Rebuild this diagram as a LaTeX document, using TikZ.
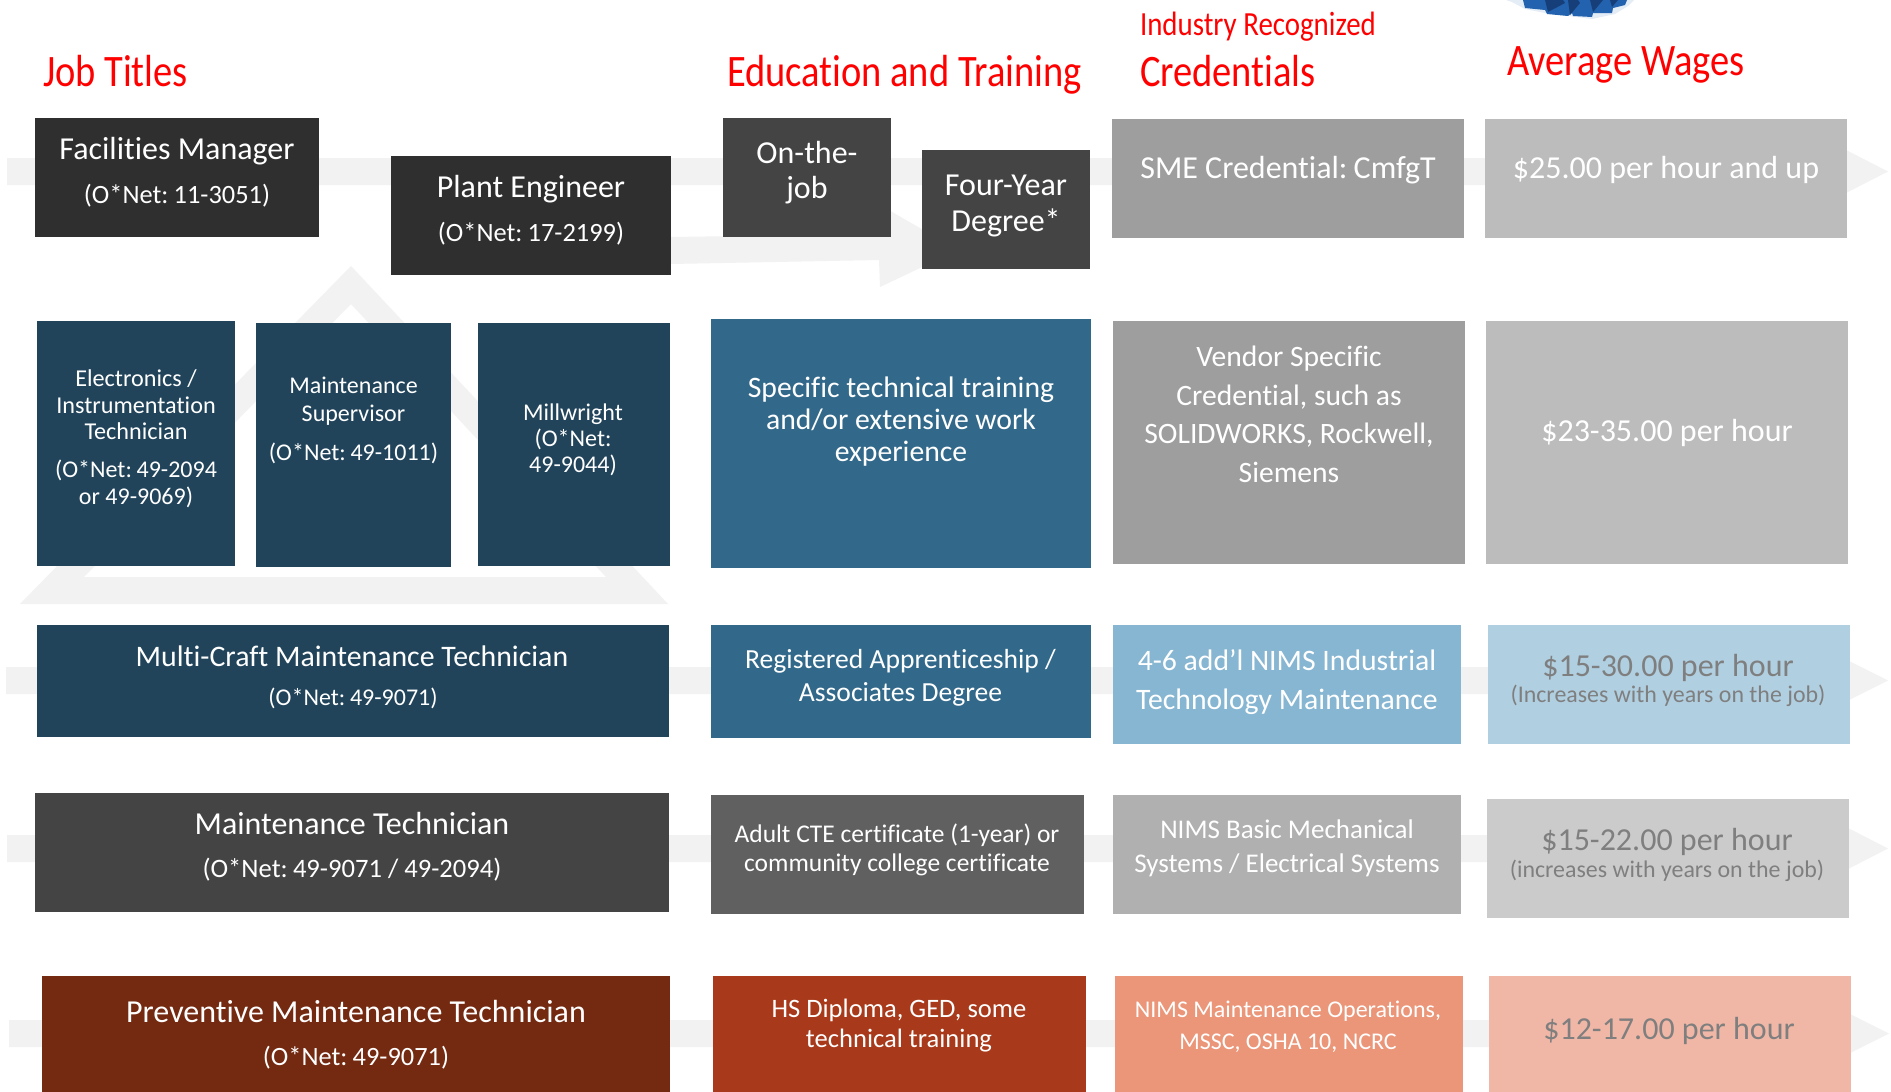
\documentclass[tikz,border=0pt]{standalone}
\usepackage{fontspec}
\setmainfont{Carlito}
\newfontfamily\headfont[FakeStretch=0.855,Ligatures=NoCommon]{Carlito}
\newfontfamily\bodyfont[Ligatures=NoCommon]{Carlito}
\newcommand{\cl}{:\kern-0.03em\ }
\definecolor{arrowgrey}{HTML}{F2F2F2}
\definecolor{cdark}{HTML}{2F2F2F}
\definecolor{cgreyA}{HTML}{444444}
\definecolor{cgreyB}{HTML}{9E9E9E}
\definecolor{cgreyC}{HTML}{BCBCBC}
\definecolor{cgreyD}{HTML}{606060}
\definecolor{cgreyE}{HTML}{B0B0B0}
\definecolor{cgreyF}{HTML}{CBCBCB}
\definecolor{cblueA}{HTML}{21445B}
\definecolor{cblueB}{HTML}{32698A}
\definecolor{cblueC}{HTML}{87B6D2}
\definecolor{cblueD}{HTML}{B0CFE1}
\definecolor{credA}{HTML}{742911}
\definecolor{credB}{HTML}{A8391A}
\definecolor{credC}{HTML}{EB9679}
\definecolor{credD}{HTML}{F1B7A6}
\definecolor{wagetext}{HTML}{7F7F7F}
\definecolor{gearA}{HTML}{2262AE}
\definecolor{gearB}{HTML}{163F7A}
\definecolor{gearH}{HTML}{E4ECF5}
\tikzset{
  boxnode/.style={inner sep=0pt,outer sep=0pt,anchor=north west},
  lbl/.style={inner sep=0pt,outer sep=0pt,align=center,text=white,anchor=center},
  head/.style={inner sep=0pt,outer sep=0pt,anchor=base west,text=red},
  band/.style={fill=arrowgrey,draw=none}
}
% name, x1, y1, x2, y2, colour
\newcommand{\bx}[6]{%
  \pgfmathsetmacro{\bw}{#4-#2}\pgfmathsetmacro{\bh}{#5-#3}%
  \node[boxnode,fill=#6,minimum width=\bw pt,minimum height=\bh pt] (#1) at (#2,#3) {};}
% name, cx, cy, size, leading, text
\newcommand{\tx}[6]{%
  \node[lbl,font=\fontsize{#4}{#5}\selectfont\bodyfont] (#1) at (#2,#3) {#6};}
% name, cx, cy, size, leading, text (grey)
\newcommand{\gx}[6]{%
  \node[lbl,text=wagetext,font=\fontsize{#4}{#5}\selectfont\bodyfont] (#1) at (#2,#3) {#6};}
% row arrow: left x, top y, bottom y, head x, head half height, tip x
\newcommand{\rowarrow}[6]{%
  \fill[band] (#1,#2) -- (#4,#2) -- (#4,{(#2+#3)/2-#5}) -- (#6,{(#2+#3)/2}) -- (#4,{(#2+#3)/2+#5}) -- (#4,#3) -- (#1,#3) -- cycle;}
\begin{document}
\begin{tikzpicture}[x=1pt,y=-1pt]
\useasboundingbox (0,0) rectangle (1891,1092);
\fill[white] (0,0) rectangle (1891,1092);

% background arrows
\rowarrow{7}{158}{185}{1847}{21}{1888}
\rowarrow{6}{667}{694}{1850}{19}{1888}
\rowarrow{7}{835}{862}{1849}{20}{1888}
\rowarrow{9}{1020}{1047}{1851}{19}{1889}
\fill[band] (671,237) -- (880,234) -- (880,205) -- (958,250) -- (880,287) -- (879,260) -- (671,264) -- cycle;
% background triangle
\fill[band,even odd rule] (351,266) -- (668,604) -- (20,604) -- cycle
  (351,304) -- (606,577) -- (84,577) -- cycle;

% gear, cut by the top edge
\fill[gearH] (1506,0) -- (1512,2) -- (1525,9) -- (1545,13) -- (1592,19) -- (1615,14) -- (1628,6) -- (1634,0) -- cycle;
\fill[gearA] (1523,0) -- (1525,8) -- (1545,10) -- (1547,14) -- (1568,16) -- (1572,13) -- (1573,16) -- (1592,17) -- (1593,13) -- (1612,13) -- (1613,8) -- (1625,5) -- (1627,0) -- cycle;
\fill[gearB] (1545,0) -- (1548,12) -- (1565,3) -- (1563,0) -- cycle
  (1568,0) -- (1570,15) -- (1580,3) -- (1578,0) -- cycle
  (1590,0) -- (1593,12) -- (1603,0) -- cycle
  (1610,0) -- (1612,7) -- (1618,0) -- cycle;

% headings
\node[head,font=\fontsize{45}{50}\selectfont\headfont] (hjob) at (43,86) {Job Titles};
\node[head,font=\fontsize{45}{50}\selectfont\headfont] (hedu) at (727,86) {Education and Training};
\node[head,font=\fontsize{33.8}{40}\selectfont\headfont] (hind) at (1140,35) {Industry Recognized};
\node[head,font=\fontsize{45}{50}\selectfont\headfont] (hcred) at (1140,86) {Credentials};
\node[head,font=\fontsize{45}{50}\selectfont\headfont] (hwage) at (1507,75) {Average Wages};

% row 1
\bx{facil}{35}{118}{319}{237}{cdark}
\tx{facilT}{177}{151}{32}{36}{Facilities Manager}
\tx{facilS}{177}{196}{26.4}{30}{(O*Net\cl 11-3051)}
\bx{plant}{391}{156}{670.5}{275}{cdark}
\tx{plantT}{531}{189}{32}{36}{Plant Engineer}
\tx{plantS}{531}{234}{26.4}{30}{(O*Net\cl 17-2199)}
\bx{onjob}{723}{118}{890.5}{237}{cgreyA}
\tx{onjobT}{807}{173}{32}{35}{On-the-\\job}
\bx{four}{922}{150}{1090}{269}{cgreyA}
\tx{fourT}{1006}{206}{32}{36}{Four-Year\\Degree*}
\bx{sme}{1112}{119}{1464}{238}{cgreyB}
\tx{smeT}{1288}{170}{32}{36}{SME Credential\cl CmfgT}
\bx{wageA}{1485}{119}{1847}{238}{cgreyC}
\tx{wageAT}{1666}{169.5}{32}{36}{\$25.00 per hour and up}

% row 2
\bx{elec}{37}{321}{235}{565.5}{cblueA}
\tx{elecT}{136}{405}{24.2}{26.5}{Electronics /\\Instrumentation\\Technician}
\tx{elecS}{136}{484}{24}{26.5}{(O*Net\cl 49-2094\\or 49-9069)}
\bx{super}{256}{322.5}{451}{566.5}{cblueA}
\tx{superT}{353.5}{401}{24}{28}{Maintenance\\Supervisor}
\tx{superS}{353.5}{453}{24}{28}{(O*Net\cl 49-1011)}
\bx{mill}{478}{322.5}{670}{565.5}{cblueA}
\tx{millT}{573}{440}{24}{26}{Millwright\\(O*Net:\\49-9044)}
\bx{spec}{711}{318.5}{1091}{567.5}{cblueB}
\tx{specT}{901}{422}{29.7}{32}{Specific technical training\\and/or extensive work\\experience}
\bx{vendor}{1113}{320.5}{1465}{564}{cgreyB}
\tx{vendorT}{1289}{414.5}{29.6}{38.5}{Vendor Specific\\Credential, such as\\SOLIDWORKS, Rockwell,\\Siemens}
\bx{wageB}{1486}{320.5}{1848}{564}{cgreyC}
\tx{wageBT}{1667}{433}{32}{36}{\$23-35.00 per hour}

% row 3
\bx{multi}{37}{625}{669}{736.5}{cblueA}
\tx{multiT}{352}{656}{29.8}{34}{Multi-Craft Maintenance Technician}
\tx{multiS}{353}{698}{24}{28}{(O*Net\cl 49-9071)}
\bx{regap}{711}{625}{1091}{737.5}{cblueB}
\tx{regapT}{900.5}{677.5}{27.6}{33}{Registered Apprenticeship /\\Associates Degree}
\bx{nimsI}{1113}{625}{1461}{743.5}{cblueC}
\tx{nimsIT}{1287}{682}{29.7}{38.5}{4-6 add’l NIMS Industrial\\Technology Maintenance}
\bx{wageC}{1488}{625}{1850}{744}{cblueD}
\gx{wageCT}{1668}{668}{32}{36}{\$15-30.00 per hour}
\gx{wageCS}{1668}{696}{23.9}{28}{(Increases with years on the job)}

% row 4
\bx{maint}{35}{792.5}{669}{911.5}{cgreyA}
\tx{maintT}{352}{823}{32}{36}{Maintenance Technician}
\tx{maintS}{352}{870}{26.6}{30}{(O*Net\cl 49-9071 / 49-2094)}
\bx{adult}{711}{795}{1084}{914}{cgreyD}
\tx{adultT}{897}{850}{25.5}{29}{Adult CTE certificate (1-year) or\\community college certificate}
\bx{nimsB}{1113}{795}{1461}{914}{cgreyE}
\tx{nimsBT}{1287}{848.5}{27}{34}{NIMS Basic Mechanical\\Systems / Electrical Systems}
\bx{wageD}{1487}{799}{1849}{918}{cgreyF}
\gx{wageDT}{1667}{842}{32}{36}{\$15-22.00 per hour}
\gx{wageDS}{1667}{871}{23.9}{28}{(increases with years on the job)}

% row 5
\bx{prev}{42}{976}{670}{1092}{credA}
\tx{prevT}{356}{1011}{32}{36}{Preventive Maintenance Technician}
\tx{prevS}{356}{1058}{26.4}{30}{(O*Net\cl 49-9071)}
\bx{hsdip}{713}{976}{1086}{1092}{credB}
\tx{hsdipT}{899}{1025.5}{26.6}{30}{HS Diploma, GED, some\\technical training}
\bx{nimsM}{1115}{976}{1463}{1092}{credC}
\tx{nimsMT}{1288}{1026.5}{24}{32}{NIMS Maintenance Operations,\\MSSC, OSHA 10, NCRC}
\bx{wageE}{1489}{976}{1851}{1092}{credD}
\gx{wageET}{1669}{1031}{32}{36}{\$12-17.00 per hour}
\end{tikzpicture}
\end{document}
